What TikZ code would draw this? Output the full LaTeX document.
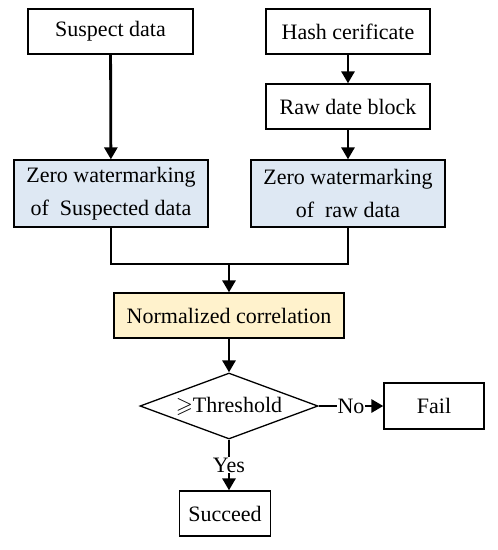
\documentclass[tikz,border=0pt]{standalone}
\usepackage{amssymb}
\usepackage{fontspec}
\setmainfont{Liberation Serif}
\usetikzlibrary{shapes.geometric,arrows.meta}

\definecolor{boxblue}{HTML}{DEE8F3}
\definecolor{boxyellow}{HTML}{FFF2CC}

\tikzset{
  blk/.style={draw,line width=1.3pt,inner sep=0pt,align=center,
    font=\fontsize{22}{33}\selectfont},
  flow/.style={line width=2.8pt,-{Triangle[length=12pt,width=13pt]}},
  wire/.style={line width=2.8pt}
}

\begin{document}
\begin{tikzpicture}[x=1pt,y=-1pt]
      \useasboundingbox (0,0) rectangle (498,550);

      \node[blk,minimum width=165pt,minimum height=45pt] (sus) at (110.5,31.5) {Suspect data};
      \node[blk,minimum width=164pt,minimum height=45pt] (hash) at (348,31.5) {Hash cerificate};
      \node[blk,minimum width=164pt,minimum height=45pt] (raw) at (348,106.5) {Raw date block};

      \node[blk,fill=boxblue,minimum width=194pt,minimum height=67pt] (zwl) at (111,193.5) {Zero watermarking\\of~~Suspected data};
      \node[blk,fill=boxblue,minimum width=194pt,minimum height=67pt] (zwr) at (348,193.5) {Zero watermarking\\of~~raw data};

      \coordinate (join) at (229,264);
      \node[blk,fill=boxyellow,minimum width=230pt,minimum height=45pt] (nc) at (229,315.5) {Normalized correlation};

      \node[blk,diamond,aspect=2.7,minimum width=178pt,minimum height=66pt] (thr) at (229,406) {$\geqslant$Threshold};
      \node[blk,minimum width=100pt,minimum height=46pt] (fail) at (434,406) {Fail};
      \node[blk,minimum width=91pt,minimum height=45pt] (suc) at (225,513.5) {Succeed};

      \draw[flow] (sus) -- (zwl);
      \draw[flow] (hash) -- (raw);
      \draw[flow] (raw) -- (zwr);
      \draw[wire] (zwl.south) |- (join);
      \draw[wire] (zwr.south) |- (join);
      \draw[flow] (join) -- (nc);
      \draw[flow] (nc) -- (thr);
      \draw[flow] (thr.east) -- node[fill=white,inner sep=1pt,font=\fontsize{22}{26}\selectfont] {No} (fail.west);
      \draw[flow] (thr.south) -- node[fill=white,inner sep=1pt,font=\fontsize{22}{26}\selectfont] {Yes} (thr.south |- suc.north);
    \end{tikzpicture}
\end{document}
